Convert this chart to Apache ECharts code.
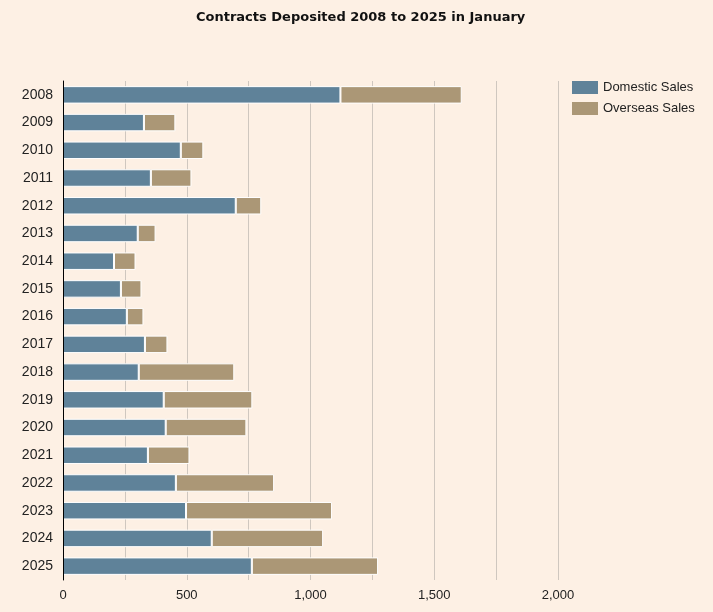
<!DOCTYPE html>
<html>
<head>
<meta charset="utf-8">
<script src="https://cdn.jsdelivr.net/npm/echarts@6/dist/echarts.min.js"></script>
<style>
html,body{margin:0;padding:0;background:#fdf0e4;}
#chart{width:713px;height:612px;}
</style>
</head>
<body>
<div id="chart"></div>
<script>
const years = ['2008','2009','2010','2011','2012','2013','2014','2015','2016','2017','2018','2019','2020','2021','2022','2023','2024','2025'];
const domesticSales = [1121,327,476,355,698,302,206,234,258,331,306,407,415,343,456,497,601,763];
const overseasSales = [490,127,91,164,103,72,87,83,67,91,386,358,326,168,397,590,450,510];
const seriesNames = ['Domestic Sales','Overseas Sales'];

const chart = echarts.init(document.getElementById('chart'));
chart.setOption({
  backgroundColor: '#fdf0e4',
  animation: false,
  title: {
    text: 'Contracts Deposited 2008 to 2025 in January',
    left: 191,
    top: 6,
    textStyle: {fontFamily: '"DejaVu Sans",sans-serif', fontWeight: 'bold', fontSize: 13, color: '#111'}
  },
  legend: {
    orient: 'vertical',
    left: 567,
    top: 76,
    itemWidth: 26,
    itemHeight: 13,
    itemGap: 8,
    icon: 'rect',
    itemStyle: {borderWidth: 0},
    textStyle: {fontFamily: '"Liberation Sans",Arial,sans-serif', fontSize: 13, color: '#222'},
    data: seriesNames
  },
  grid: {left: 63, right: 155, top: 81, bottom: 32, containLabel: false},
  xAxis: {
    type: 'value',
    min: 0,
    max: 2000,
    interval: 250,
    axisLine: {show: false},
    axisTick: {show: false},
    splitLine: {show: true, lineStyle: {color: '#cfc7bf', width: 1}},
    axisLabel: {
      margin: 9,
      fontFamily: '"Liberation Sans",Arial,sans-serif',
      fontSize: 13,
      color: '#222',
      formatter: function (v) { return v % 500 === 0 ? v.toLocaleString('en-US') : ''; }
    }
  },
  yAxis: {
    type: 'category',
    inverse: true,
    data: years,
    z: 5,
    axisLine: {show: true, lineStyle: {color: '#000', width: 1}},
    axisTick: {show: false},
    axisLabel: {margin: 10, fontFamily: '"Liberation Sans",Arial,sans-serif', fontSize: 14, color: '#222'}
  },
  series: [
    {
      name: seriesNames[0], type: 'bar', stack: 'total', data: domesticSales,
      barCategoryGap: '37%',
      itemStyle: {color: '#5f8299', borderColor: '#fff', borderWidth: 1}
    },
    {
      name: seriesNames[1], type: 'bar', stack: 'total', data: overseasSales,
      barCategoryGap: '37%',
      itemStyle: {color: '#ab9776', borderColor: '#fff', borderWidth: 1}
    }
  ]
});
</script>
</body>
</html>
